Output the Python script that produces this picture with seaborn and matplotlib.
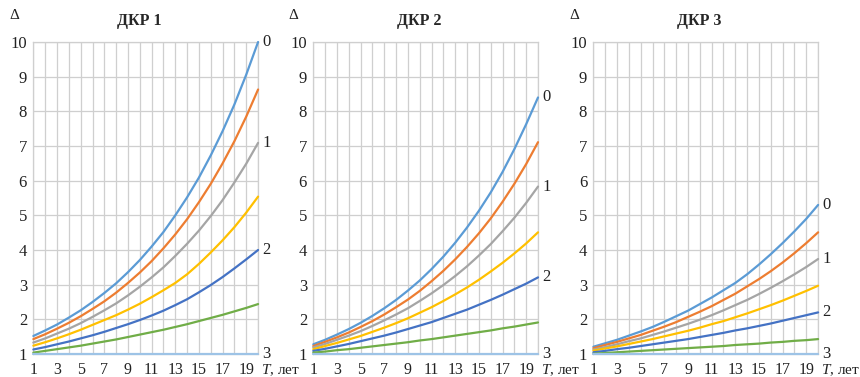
import numpy as np
import pandas as pd
import matplotlib
matplotlib.use("Agg")
import matplotlib.pyplot as plt
from matplotlib.ticker import MultipleLocator
import seaborn as sns

years = list(range(1, 21))

# ДКР 1
dkr1_a = [1.52, 1.68, 1.85, 2.05, 2.26, 2.50, 2.76, 3.04, 3.36, 3.71, 4.10, 4.52, 5.00, 5.52, 6.09, 6.73, 7.43, 8.20, 9.06, 10.0]
dkr1_b = [1.43, 1.57, 1.73, 1.90, 2.09, 2.30, 2.52, 2.77, 3.05, 3.35, 3.68, 4.05, 4.45, 4.89, 5.38, 5.91, 6.50, 7.14, 7.85, 8.63]
dkr1_c = [1.33, 1.45, 1.59, 1.73, 1.89, 2.07, 2.26, 2.46, 2.69, 2.94, 3.21, 3.50, 3.83, 4.18, 4.56, 4.98, 5.44, 5.95, 6.49, 7.09]
dkr1_d = [1.24, 1.34, 1.45, 1.57, 1.70, 1.84, 1.98, 2.12, 2.28, 2.45, 2.64, 2.84, 3.05, 3.30, 3.60, 3.93, 4.28, 4.66, 5.08, 5.54]
dkr1_e = [1.13, 1.20, 1.28, 1.36, 1.45, 1.54, 1.64, 1.75, 1.86, 1.98, 2.11, 2.25, 2.41, 2.58, 2.78, 2.99, 3.22, 3.47, 3.73, 4.00]
dkr1_f = [1.04, 1.09, 1.14, 1.19, 1.24, 1.30, 1.36, 1.42, 1.49, 1.56, 1.63, 1.70, 1.78, 1.86, 1.95, 2.04, 2.13, 2.23, 2.33, 2.44]
dkr1_g = [1.0] * 20

# ДКР 2
dkr2_a = [1.28, 1.41, 1.56, 1.72, 1.90, 2.10, 2.32, 2.56, 2.83, 3.12, 3.45, 3.81, 4.21, 4.65, 5.13, 5.66, 6.25, 6.91, 7.63, 8.40]
dkr2_b = [1.23, 1.35, 1.48, 1.62, 1.78, 1.95, 2.14, 2.35, 2.57, 2.82, 3.10, 3.40, 3.73, 4.09, 4.48, 4.91, 5.39, 5.91, 6.48, 7.11]
dkr2_c = [1.19, 1.29, 1.41, 1.53, 1.66, 1.81, 1.97, 2.14, 2.32, 2.53, 2.75, 2.99, 3.25, 3.53, 3.84, 4.17, 4.54, 4.93, 5.36, 5.83]
dkr2_d = [1.14, 1.23, 1.32, 1.42, 1.52, 1.64, 1.76, 1.89, 2.03, 2.19, 2.35, 2.53, 2.72, 2.92, 3.14, 3.38, 3.63, 3.90, 4.19, 4.51]
dkr2_e = [1.09, 1.15, 1.22, 1.29, 1.37, 1.45, 1.53, 1.62, 1.72, 1.82, 1.92, 2.04, 2.16, 2.28, 2.42, 2.56, 2.71, 2.87, 3.03, 3.21]
dkr2_f = [1.04, 1.07, 1.11, 1.14, 1.18, 1.22, 1.26, 1.30, 1.34, 1.39, 1.43, 1.48, 1.53, 1.58, 1.63, 1.68, 1.74, 1.79, 1.85, 1.91]
dkr2_g = [1.0] * 20

# ДКР 3
dkr3_a = [1.21, 1.31, 1.41, 1.53, 1.65, 1.78, 1.93, 2.09, 2.25, 2.44, 2.63, 2.84, 3.05, 3.30, 3.58, 3.88, 4.20, 4.54, 4.90, 5.30]
dkr3_b = [1.17, 1.26, 1.35, 1.45, 1.55, 1.67, 1.79, 1.92, 2.07, 2.22, 2.38, 2.56, 2.74, 2.95, 3.16, 3.39, 3.64, 3.91, 4.20, 4.51]
dkr3_c = [1.13, 1.20, 1.28, 1.37, 1.45, 1.55, 1.65, 1.76, 1.87, 1.99, 2.12, 2.26, 2.41, 2.56, 2.73, 2.91, 3.10, 3.30, 3.51, 3.74]
dkr3_d = [1.10, 1.16, 1.22, 1.29, 1.36, 1.43, 1.51, 1.59, 1.67, 1.76, 1.86, 1.95, 2.06, 2.17, 2.29, 2.41, 2.54, 2.68, 2.82, 2.97]
dkr3_e = [1.05, 1.09, 1.14, 1.18, 1.23, 1.28, 1.33, 1.38, 1.43, 1.49, 1.55, 1.61, 1.68, 1.74, 1.81, 1.88, 1.96, 2.04, 2.12, 2.20]
dkr3_f = [1.01, 1.03, 1.05, 1.07, 1.09, 1.11, 1.13, 1.15, 1.17, 1.19, 1.21, 1.23, 1.26, 1.28, 1.30, 1.33, 1.35, 1.38, 1.40, 1.43]
dkr3_g = [1.0] * 20

titles = ["ДКР 1", "ДКР 2", "ДКР 3"]
series_names = ["a", "b", "c", "d", "e", "f", "g"]
curve_labels = ["0", None, "1", None, "2", None, "3"]
colors = ["#5B9BD5", "#ED7D31", "#A5A5A5", "#FFC000", "#4472C4", "#70AD47", "#9DC3E6"]

panels = [
    [dkr1_a, dkr1_b, dkr1_c, dkr1_d, dkr1_e, dkr1_f, dkr1_g],
    [dkr2_a, dkr2_b, dkr2_c, dkr2_d, dkr2_e, dkr2_f, dkr2_g],
    [dkr3_a, dkr3_b, dkr3_c, dkr3_d, dkr3_e, dkr3_f, dkr3_g],
]

sns.set_style("white")
plt.rcParams["font.family"] = ["Liberation Serif", "DejaVu Serif"]
plt.rcParams["mathtext.fontset"] = "custom"
plt.rcParams["mathtext.it"] = "Liberation Serif:italic"
plt.rcParams["mathtext.rm"] = "Liberation Serif"

fig = plt.figure(figsize=(8.6, 3.77), dpi=100)
lefts = [0.0388, 0.3643, 0.690]
grid_c = "#CFCFCF"
txt_c = "#222222"

for left, title, data in zip(lefts, titles, panels):
    ax = fig.add_axes([left, 0.061, 0.2613, 0.8276])
    rows = []
    for name, vals in zip(series_names, data):
        for t, v in zip(years, vals):
            rows.append({"T": t, "D": v, "s": name})
    df = pd.DataFrame(rows)
    sns.lineplot(data=df, x="T", y="D", hue="s", palette=colors, linewidth=1.6,
                 legend=False, ax=ax, clip_on=False, zorder=3)

    ax.set_xlim(1, 20)
    ax.set_ylim(1, 10)
    ax.set_xticks(range(1, 20, 2))
    ax.xaxis.set_minor_locator(MultipleLocator(1))
    ax.set_yticks(range(1, 11))
    ax.grid(True, which="both", color=grid_c, linewidth=0.9)
    for sp in ax.spines.values():
        sp.set_color(grid_c)
        sp.set_linewidth(0.9)
    ax.tick_params(axis="y", length=3, color=grid_c, labelsize=12, labelcolor=txt_c, pad=1.5)
    ax.tick_params(axis="x", which="both", length=0, labelsize=11.5, labelcolor=txt_c, pad=5.5)
    ax.set_xlabel("")
    ax.set_ylabel("")
    ax.set_title(title, fontsize=11.5, fontweight="bold", pad=12, x=0.47)

    ax.text(-0.087, 1.085, "Δ", transform=ax.transAxes, fontsize=11,
            ha="center", va="center", color=txt_c)
    ax.text(1.015, -0.052, "$T$, лет", transform=ax.transAxes, fontsize=11,
            ha="left", va="center", color=txt_c)

    for lbl, vals in zip(curve_labels, data):
        if lbl is None:
            continue
        ax.annotate(lbl, xy=(years[-1], vals[-1]), xytext=(3, 0),
                    textcoords="offset points", fontsize=12,
                    ha="left", va="center", color=txt_c)

fig.savefig("out.png", dpi=100)
